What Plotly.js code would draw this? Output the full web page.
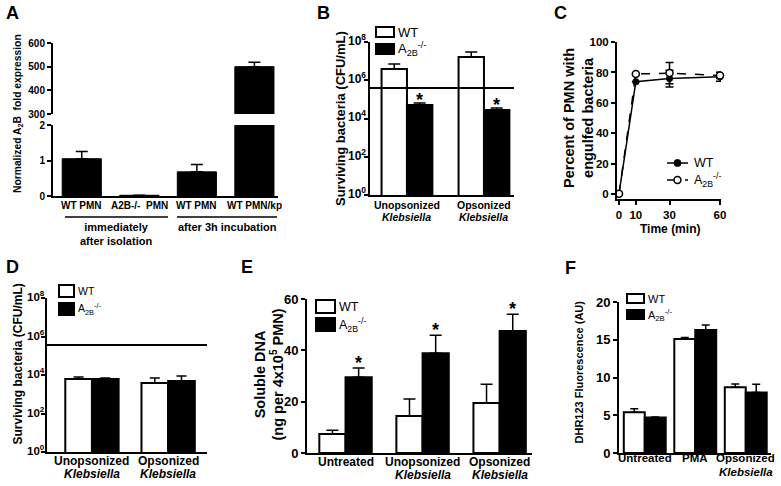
<!DOCTYPE html>
<html><head><meta charset="utf-8">
<script src="https://cdn.plot.ly/plotly-3.0.1.min.js"></script>
<style>html,body{margin:0;padding:0;background:#fff}#chart{width:781px;height:486px}</style>
</head><body><div id="chart"></div>
<script>
// ---------------- data ----------------
const legendLabels = ['WT', 'A<sub>2B</sub><sup>-/-</sup>'];

const aLabels = ['WT PMN', 'A2B-/-\u00a0 PMN', 'WT PMN', 'WT PMN/kp'];
const aValues = [1.05, 0.02, 0.68, 500];
const aErrors = [0.2, 0, 0.21, 19];
const aGroups = ['immediately<br>after isolation', 'after 3h incubation'];

const bCategories = ['Unopsonized<br><i>Klebsiella</i>', 'Opsonized<br><i>Klebsiella</i>'];
const bWT = [3.9e6, 1.65e7];
const bWTErr = [3.2e6, 1.35e7];
const bKO = [5.1e4, 2.8e4];
const bKOErr = [1.4e4, 0.7e4];
const bInoculum = 3.9e5;
const bSignificant = [true, true];

const cTime = [0, 10, 30, 60];
const cWT = [0.5, 74, 76, 77.2];
const cWTErr = [0, 0, 5.5, 3];
const cKO = [0.5, 79, 79.6, 78];
const cKOErr = [0, 0, 7, 2];

const dCategories = ['Unopsonized<br><i>Klebsiella</i>', 'Opsonized<br><i>Klebsiella</i>'];
const dWT = [6200, 3800];
const dWTErr = [1700, 3100];
const dKO = [6200, 4900];
const dKOErr = [700, 4000];
const dInoculum = 3.6e5;

const eCategories = ['Untreated', 'Unopsonized<br><i>Klebsiella</i>', 'Opsonized<br><i>Klebsiella</i>'];
const eWT = [7.4, 14.4, 19.5];
const eWTErr = [1.5, 6.6, 7.3];
const eKO = [29.5, 38.9, 47.5];
const eKOErr = [3.6, 7, 6.6];
const eSignificant = [true, true, true];

const fCategories = ['Untreated', 'PMA', 'Opsonized<br><i>Klebsiella</i>'];
const fWT = [5.4, 15.1, 8.7];
const fWTErr = [0.45, 0.2, 0.45];
const fKO = [4.7, 16.3, 8.0];
const fKOErr = [0.08, 0.65, 1.1];

const logTickVals = [1, 1e2, 1e4, 1e6, 1e8];
const logTickText = ['10<sup>0</sup>', '10<sup>2</sup>', '10<sup>4</sup>', '10<sup>6</sup>', '10<sup>8</sup>'];

// ---------------- helpers ----------------
const W = 781, H = 486;
const px = x => x / W;
const py = y => 1 - y / H;
const FONT = 'Liberation Sans, Arial, Helvetica, sans-serif';
const fnt = (size, weight) => ({family: FONT, size: size, color: '#000', weight: weight || 'bold'});

function yAx(top, bottom, anchor, fs, extra) {
  return Object.assign({
    domain: [py(bottom), py(top)], anchor: anchor, showline: true, linewidth: 2, linecolor: '#000',
    ticks: 'outside', ticklen: 4, tickwidth: 2, tickcolor: '#000', showgrid: false, zeroline: false,
    fixedrange: true, tickfont: fnt(fs)
  }, extra);
}
function xAx(left, right, anchor, fs, extra) {
  return Object.assign({
    domain: [px(left), px(right)], anchor: anchor, showline: true, linewidth: 2, linecolor: '#000',
    ticks: '', showgrid: false, zeroline: false, fixedrange: true, tickfont: fnt(fs), showticklabels: false
  }, extra);
}

const traces = [];
const shapes = [];
const annotations = [];

function groupedBars(xa, ya, wt, wtErr, ko, koErr, width, capW) {
  const idx = wt.map((_, i) => i);
  traces.push({type: 'bar', x: idx.map(i => i - width / 2), y: wt, width: width, xaxis: xa, yaxis: ya,
    marker: {color: '#fff', line: {color: '#000', width: 2}},
    error_y: {type: 'data', symmetric: false, array: wtErr, arrayminus: wt.map(() => 0), color: '#000', thickness: 1.5, width: capW},
    hoverinfo: 'skip', showlegend: false});
  traces.push({type: 'bar', x: idx.map(i => i + width / 2), y: ko, width: width, xaxis: xa, yaxis: ya,
    marker: {color: '#000', line: {color: '#000', width: 2}},
    error_y: {type: 'data', symmetric: false, array: koErr, arrayminus: ko.map(() => 0), color: '#000', thickness: 1.5, width: capW},
    hoverinfo: 'skip', showlegend: false});
}

function stars(xa, ya, sig, vals, errs, width, isLog, shift) {
  sig.forEach((s, i) => {
    if (!s) return;
    const top = vals[i] + errs[i];
    annotations.push({xref: xa, yref: ya, x: i + width / 2, y: isLog ? Math.log10(top) : top,
      text: '*', showarrow: false, yanchor: 'middle', yshift: shift, font: fnt(18)});
  });
}

function hline(xa, ya, range, value) {
  traces.push({type: 'scatter', mode: 'lines', x: range, y: [value, value], xaxis: xa, yaxis: ya,
    line: {color: '#000', width: 2}, hoverinfo: 'skip', showlegend: false, cliponaxis: false});
}

function barLegend(x, y1, y2, w, h, fs) {
  shapes.push({type: 'rect', xref: 'paper', yref: 'paper', x0: px(x), x1: px(x + w), y0: py(y1 + h), y1: py(y1),
    line: {color: '#000', width: 2}, fillcolor: '#fff'});
  shapes.push({type: 'rect', xref: 'paper', yref: 'paper', x0: px(x), x1: px(x + w), y0: py(y2 + h), y1: py(y2),
    line: {color: '#000', width: 2}, fillcolor: '#000'});
  annotations.push({xref: 'paper', yref: 'paper', x: px(x + w + 2), y: py(y1 + h / 2), xanchor: 'left', yanchor: 'middle',
    text: legendLabels[0], showarrow: false, font: fnt(fs, 'normal')});
  annotations.push({xref: 'paper', yref: 'paper', x: px(x + w + 2), y: py(y2 + h / 2), xanchor: 'left', yanchor: 'middle',
    text: legendLabels[1], showarrow: false, font: fnt(fs, 'normal')});
}

function vTitle(x, y, text, fs) {
  annotations.push({xref: 'paper', yref: 'paper', x: px(x), y: py(y), xanchor: 'center', yanchor: 'middle',
    textangle: -90, text: text, showarrow: false, font: fnt(fs)});
}
function label(x, y, text, fs, anchor, weight) {
  annotations.push({xref: 'paper', yref: 'paper', x: px(x), y: py(y), xanchor: anchor || 'center', yanchor: 'middle',
    text: text, showarrow: false, font: fnt(fs, weight)});
}
// category labels: one annotation per text line, centred on the category position of the axis
function catLabels(xa, cats, lineYs, fs) {
  cats.forEach((c, i) => c.split('<br>').forEach((line, j) =>
    annotations.push({xref: xa, yref: 'paper', x: i, y: py(lineYs[j]), xanchor: 'center', yanchor: 'middle',
      text: line, showarrow: false, font: fnt(fs)})));
}
// log-axis tick labels (10^n) as centred annotations left of the axis
function logLabels(ya, centerX, fs) {
  logTickVals.forEach((v, i) =>
    annotations.push({xref: 'paper', yref: ya, x: px(centerX), y: Math.log10(v), xanchor: 'center', yanchor: 'middle',
      yshift: 2, text: logTickText[i], showarrow: false, font: fnt(fs)}));
}

// ---------------- Panel A (broken axis) ----------------
const aIdx = aValues.map((_, i) => i);
const aLowMax = 2;
traces.push({type: 'bar', x: aIdx, y: aValues, width: 0.68, xaxis: 'x', yaxis: 'y',
  marker: {color: '#000', line: {color: '#000', width: 1}},
  error_y: {type: 'data', symmetric: false, array: aErrors.map((e, i) => aValues[i] <= aLowMax ? e : 0),
    arrayminus: aValues.map(() => 0), color: '#000', thickness: 1.5, width: 6},
  hoverinfo: 'skip', showlegend: false});
traces.push({type: 'bar', x: aIdx, y: aValues, width: 0.68, xaxis: 'x', yaxis: 'y7',
  marker: {color: '#000', line: {color: '#000', width: 1}},
  error_y: {type: 'data', symmetric: false, array: aErrors.map((e, i) => aValues[i] > aLowMax ? e : 0),
    arrayminus: aValues.map(() => 0), color: '#000', thickness: 1.5, width: 6},
  hoverinfo: 'skip', showlegend: false});
catLabels('x', aLabels, [205], 10);

// group brackets for A
shapes.push({type: 'line', xref: 'paper', yref: 'paper', x0: px(65), x1: px(168), y0: py(217), y1: py(217), line: {color: '#000', width: 1.5}});
shapes.push({type: 'line', xref: 'paper', yref: 'paper', x0: px(177), x1: px(277), y0: py(217), y1: py(217), line: {color: '#000', width: 1.5}});
annotations.push({xref: 'paper', yref: 'paper', x: px(116), y: py(219), xanchor: 'center', yanchor: 'top', text: aGroups[0], showarrow: false, font: fnt(11)});
annotations.push({xref: 'paper', yref: 'paper', x: px(227), y: py(219), xanchor: 'center', yanchor: 'top', text: aGroups[1], showarrow: false, font: fnt(11)});
vTitle(19, 114, 'Normalized A<sub>2</sub>B\u00a0 fold expression', 10.3);

// ---------------- Panel B ----------------
const bRange = [-0.48, 1.39];
const bW = 0.33;
hline('x2', 'y2', bRange, bInoculum);
groupedBars('x2', 'y2', bWT, bWTErr, bKO, bKOErr, bW, 6);
stars('x2', 'y2', bSignificant, bKO, bKOErr, bW, true, 3);
barLegend(376, 27, 44, 18, 10, 13);
vTitle(340, 119, 'Surviving bacteria (CFU/mL)', 13);
logLabels('y2', 357, 12);
catLabels('x2', bCategories, [205, 217], 10.5);

// ---------------- Panel C ----------------
traces.push({type: 'scatter', mode: 'lines+markers', x: cTime, y: cWT, xaxis: 'x3', yaxis: 'y3',
  line: {color: '#000', width: 1.5}, marker: {color: '#000', size: 7, symbol: 'circle'},
  error_y: {type: 'data', array: cWTErr, color: '#000', thickness: 1.5, width: 4},
  cliponaxis: false, hoverinfo: 'skip', showlegend: false});
traces.push({type: 'scatter', mode: 'lines+markers', x: cTime, y: cKO, xaxis: 'x3', yaxis: 'y3',
  line: {color: '#000', width: 1.5, dash: 'dash'}, marker: {color: '#fff', size: 7, symbol: 'circle', line: {color: '#000', width: 1.5}},
  error_y: {type: 'data', array: cKOErr, color: '#000', thickness: 1.5, width: 4},
  cliponaxis: false, hoverinfo: 'skip', showlegend: false});
// legend C
shapes.push({type: 'line', xref: 'paper', yref: 'paper', x0: px(667), x1: px(688), y0: py(163), y1: py(163), line: {color: '#000', width: 1.5}});
shapes.push({type: 'circle', xref: 'paper', yref: 'paper', x0: px(674), x1: px(681), y0: py(166.5), y1: py(159.5), line: {color: '#000', width: 1}, fillcolor: '#000'});
shapes.push({type: 'line', xref: 'paper', yref: 'paper', x0: px(667), x1: px(688), y0: py(180), y1: py(180), line: {color: '#000', width: 1.5, dash: 'dash'}});
shapes.push({type: 'circle', xref: 'paper', yref: 'paper', x0: px(674), x1: px(681), y0: py(183.5), y1: py(176.5), line: {color: '#000', width: 1.5}, fillcolor: '#fff'});
label(692, 163, legendLabels[0], 12.5, 'left', 'normal');
label(692, 180, legendLabels[1], 12.5, 'left', 'normal');
vTitle(578, 118, 'Percent of PMN with<br>engulfed bacteria', 14.5);
label(670, 229, 'Time (min)', 12);

// ---------------- Panel D ----------------
const dRange = [-0.59, 1.51];
const dW = 0.35;
hline('x4', 'y4', dRange, dInoculum);
groupedBars('x4', 'y4', dWT, dWTErr, dKO, dKOErr, dW, 5);
barLegend(59, 285, 303, 15, 12, 10.5);
vTitle(17.5, 364, 'Surviving bacteria (CFU/mL)', 12);
logLabels('y4', 35.5, 11.5);
catLabels('x4', dCategories, [461, 474], 12);

// ---------------- Panel E ----------------
const eW = 0.34;
groupedBars('x5', 'y5', eWT, eWTErr, eKO, eKOErr, eW, 6);
stars('x5', 'y5', eSignificant, eKO, eKOErr, eW, false, 5);
barLegend(316, 300, 318, 19, 13, 12.5);
vTitle(268.5, 375, 'Soluble DNA<br>(ng per 4x10<sup>5</sup> PMN)', 14.5);
catLabels('x5', eCategories, [462, 475], 12);

// ---------------- Panel F ----------------
const fW = 0.415;
groupedBars('x6', 'y6', fWT, fWTErr, fKO, fKOErr, fW, 4);
barLegend(627, 294, 310, 17, 9, 11);
vTitle(578.5, 372, 'DHR123 Fluorescence (AU)', 11);
catLabels('x6', fCategories, [458, 472], 11.5);

// panel letters
[['A', 4, 13], ['B', 315, 13], ['C', 552, 13], ['D', 4, 267], ['E', 239, 267], ['F', 563, 268]].forEach(l =>
  annotations.push({xref: 'paper', yref: 'paper', x: px(l[1]), y: py(l[2]), xanchor: 'left', yanchor: 'middle',
    text: l[0], showarrow: false, font: fnt(18)}));

// ---------------- layout ----------------
const layout = {
  width: W, height: H, margin: {l: 0, r: 0, t: 0, b: 0}, paper_bgcolor: '#fff', plot_bgcolor: 'rgba(0,0,0,0)',
  showlegend: false, barmode: 'overlay', font: fnt(11),
  // A
  xaxis: xAx(53, 278, 'y', 10, {range: [-0.5, 3.41]}),
  yaxis: yAx(125, 196, 'x', 10, {range: [0, 2], tickvals: [0, 1, 2]}),
  yaxis7: yAx(43, 114, 'x', 10, {range: [300, 600], tickvals: [300, 400, 500, 600]}),
  // B
  xaxis2: xAx(370, 514, 'y2', 10.5, {range: bRange}),
  yaxis2: yAx(42, 195, 'x2', 12, {type: 'log', range: [0, 8], tickvals: logTickVals, showticklabels: false}),
  // C
  xaxis3: xAx(617, 721, 'y3', 11.5, {range: [-1.2, 60.6], tickvals: cTime, showticklabels: true, ticks: 'outside', ticklen: 4, tickwidth: 2, tickcolor: '#000'}),
  yaxis3: yAx(42, 199, 'x3', 11.5, {range: [-3, 100], tickvals: [0, 20, 40, 60, 80, 100]}),
  // D
  xaxis4: xAx(47, 207, 'y4', 12, {range: dRange}),
  yaxis4: yAx(298, 452, 'x4', 12, {type: 'log', range: [0, 8], tickvals: logTickVals, showticklabels: false}),
  // E
  xaxis5: xAx(307, 532, 'y5', 12, {range: [-0.5, 2.42]}),
  yaxis5: yAx(299, 453, 'x5', 13, {range: [0, 60], tickvals: [0, 20, 40, 60]}),
  // F
  xaxis6: xAx(619, 771, 'y6', 11.5, {range: [-0.51, 2.5]}),
  yaxis6: yAx(302, 453, 'x6', 13, {range: [0, 20], tickvals: [0, 5, 10, 15, 20]}),
  shapes: shapes,
  annotations: annotations
};

Plotly.newPlot('chart', traces, layout, {staticPlot: true, displayModeBar: false});
</script>
</body></html>
